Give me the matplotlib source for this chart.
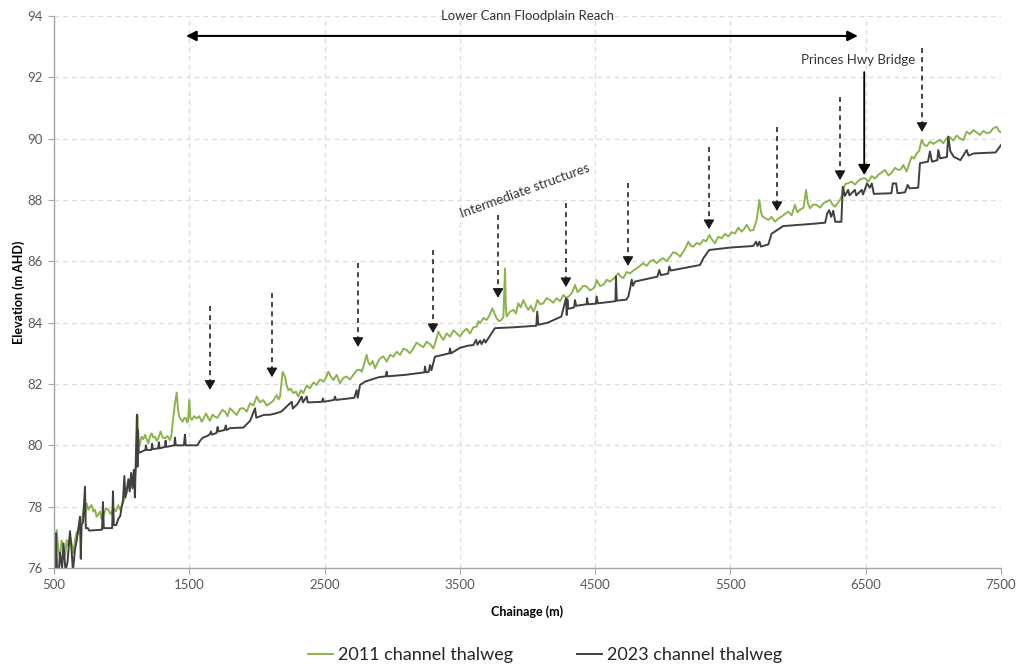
import matplotlib
matplotlib.use("Agg")
import matplotlib.pyplot as plt

plt.rcParams['font.family'] = ['Lato', 'DejaVu Sans']

# 2011 channel thalweg: (chainage m, elevation m AHD)
pts_2011 = [
    (500, 76.26), (510, 76.8), (520, 77.24), (532, 76.6), (544, 76.37), (556, 76.9), (569, 76.59),
    (582, 76.4), (594, 76.91), (606, 76.7), (618, 77.02), (630, 76.8), (643, 76.48), (655, 76.9),
    (668, 77.18), (680, 77.1), (692, 77.56), (705, 77.5), (717, 77.89), (729, 77.7), (741, 78.11),
    (754, 77.9), (766, 78.0), (778, 78.05), (791, 77.84), (803, 77.9), (815, 77.67), (828, 77.75),
    (840, 77.84), (852, 77.6), (865, 77.67), (884, 77.95), (902, 77.89), (920, 77.75), (939, 77.95),
    (957, 77.85), (975, 78.05), (988, 77.9), (1000, 78.0), (1012, 78.15), (1025, 78.33), (1038, 78.45),
    (1050, 78.65), (1062, 78.6), (1074, 78.87), (1087, 78.8), (1099, 79.03), (1108, 79.4), (1116, 80.99),
    (1124, 80.2), (1131, 79.96), (1140, 80.15), (1148, 80.28), (1160, 80.2), (1173, 80.34), (1185, 80.2),
    (1197, 80.06), (1210, 80.3), (1222, 80.39), (1235, 80.25), (1247, 80.28), (1259, 80.15), (1271, 80.23),
    (1280, 80.35), (1288, 80.45), (1304, 80.25), (1320, 80.23), (1338, 80.3), (1357, 80.17), (1367, 80.3),
    (1377, 80.72), (1394, 81.37), (1407, 81.72), (1416, 81.2), (1426, 80.93), (1438, 80.85), (1451, 80.77),
    (1463, 80.9), (1476, 80.88), (1483, 80.75), (1490, 80.77), (1500, 81.48), (1508, 80.9), (1518, 80.83),
    (1536, 80.95), (1555, 80.88), (1573, 80.95), (1592, 80.77), (1608, 80.9), (1624, 81.04), (1638, 80.9),
    (1653, 80.8), (1672, 81.0), (1690, 80.93), (1708, 80.9), (1727, 81.04), (1745, 81.15), (1764, 81.1),
    (1782, 80.95), (1801, 81.21), (1825, 81.1), (1850, 80.99), (1875, 81.2), (1900, 81.21), (1925, 81.1),
    (1949, 81.37), (1974, 81.3), (1998, 81.59), (2022, 81.4), (2047, 81.48), (2072, 81.3), (2097, 81.37),
    (2120, 81.45), (2146, 81.64), (2160, 81.5), (2171, 81.59), (2190, 82.4), (2207, 82.24), (2220, 81.95),
    (2232, 81.8), (2250, 81.85), (2269, 81.7), (2288, 81.75), (2306, 81.59), (2325, 81.8), (2343, 81.7),
    (2368, 81.95), (2392, 81.86), (2418, 82.05), (2442, 81.97), (2466, 82.15), (2491, 82.08), (2510, 82.2),
    (2528, 82.4), (2546, 82.25), (2565, 82.13), (2590, 82.3), (2614, 82.02), (2638, 82.2), (2663, 82.24),
    (2688, 82.15), (2713, 82.3), (2738, 82.45), (2762, 82.46), (2775, 82.4), (2787, 82.57), (2811, 82.95),
    (2824, 82.7), (2836, 82.62), (2855, 82.75), (2873, 82.51), (2892, 82.7), (2910, 82.84), (2935, 82.9),
    (2959, 82.73), (2984, 82.95), (3008, 82.89), (3033, 83.05), (3058, 82.95), (3082, 83.15), (3107, 83.11),
    (3131, 83.0), (3156, 83.16), (3180, 83.35), (3205, 83.27), (3230, 83.2), (3255, 83.38), (3280, 83.3),
    (3304, 83.16), (3322, 83.4), (3341, 83.71), (3360, 83.55), (3378, 83.44), (3402, 83.65), (3427, 83.54),
    (3452, 83.75), (3477, 83.65), (3500, 83.55), (3526, 83.71), (3550, 83.8), (3575, 83.65), (3600, 83.85),
    (3624, 83.87), (3637, 84.05), (3649, 83.98), (3674, 84.15), (3698, 84.09), (3720, 84.25), (3740, 84.47),
    (3756, 84.3), (3772, 84.14), (3790, 84.05), (3809, 84.09), (3822, 84.2), (3834, 85.77), (3840, 84.5),
    (3846, 84.2), (3870, 84.35), (3895, 84.42), (3914, 84.3), (3932, 84.63), (3950, 84.5), (3969, 84.74),
    (3988, 84.55), (4006, 84.42), (4025, 84.55), (4043, 84.36), (4058, 84.5), (4073, 84.74), (4095, 84.6),
    (4117, 84.63), (4140, 84.8), (4166, 84.74), (4190, 84.65), (4216, 84.8), (4240, 84.7), (4265, 84.9),
    (4290, 84.8), (4314, 84.9), (4332, 85.0), (4351, 85.23), (4370, 85.0), (4388, 85.07), (4412, 85.2),
    (4437, 85.18), (4462, 85.05), (4487, 85.12), (4500, 85.2), (4511, 85.39), (4535, 85.2), (4561, 85.23),
    (4585, 85.4), (4610, 85.34), (4640, 85.45), (4671, 85.61), (4690, 85.5), (4708, 85.45), (4733, 85.65),
    (4758, 85.61), (4782, 85.7), (4807, 85.77), (4830, 85.85), (4856, 85.94), (4880, 85.85), (4905, 85.99),
    (4930, 86.05), (4955, 85.94), (4980, 86.05), (5004, 86.1), (5028, 86.0), (5053, 86.15), (5078, 86.3),
    (5103, 86.26), (5128, 86.15), (5152, 86.32), (5170, 86.45), (5189, 86.64), (5208, 86.5), (5226, 86.48),
    (5250, 86.6), (5275, 86.55), (5300, 86.7), (5320, 86.65), (5344, 86.86), (5365, 86.7), (5386, 86.59),
    (5410, 86.8), (5435, 86.75), (5460, 86.9), (5484, 86.81), (5510, 86.95), (5534, 86.91), (5558, 87.1),
    (5583, 86.97), (5600, 87.05), (5620, 87.19), (5645, 87.0), (5669, 87.02), (5683, 87.2), (5694, 87.35),
    (5714, 88.0), (5726, 87.6), (5738, 87.46), (5760, 87.4), (5780, 87.35), (5805, 87.45), (5829, 87.29),
    (5855, 87.4), (5879, 87.46), (5904, 87.55), (5928, 87.62), (5952, 87.5), (5977, 87.84), (5995, 87.6),
    (6014, 87.68), (6040, 87.75), (6059, 88.33), (6072, 87.9), (6088, 87.73), (6112, 87.85), (6137, 87.84),
    (6162, 87.75), (6187, 87.89), (6212, 87.95), (6236, 88.0), (6255, 87.85), (6273, 87.78), (6292, 87.9),
    (6310, 88.0), (6328, 88.2), (6347, 88.52), (6372, 88.55), (6396, 88.6), (6420, 88.5), (6445, 88.63),
    (6470, 88.7), (6495, 88.71), (6520, 88.6), (6544, 88.78), (6568, 88.7), (6593, 88.82), (6618, 88.9),
    (6643, 88.98), (6668, 88.8), (6692, 88.89), (6716, 89.05), (6741, 88.98), (6760, 89.0), (6778, 89.14),
    (6803, 88.93), (6822, 89.2), (6840, 89.41), (6858, 89.35), (6877, 89.52), (6895, 89.6), (6914, 89.96),
    (6932, 89.8), (6951, 89.76), (6975, 89.9), (7000, 89.83), (7025, 89.9), (7049, 89.96), (7073, 89.85),
    (7098, 90.01), (7123, 90.05), (7148, 89.94), (7172, 90.1), (7197, 90.01), (7222, 89.95), (7246, 90.23),
    (7270, 90.15), (7295, 90.28), (7320, 90.2), (7345, 90.12), (7370, 90.25), (7394, 90.18), (7418, 90.2),
    (7443, 90.34), (7468, 90.39), (7485, 90.25), (7500, 90.2),
]

# 2023 channel thalweg
pts_2023 = [
    (500, 76.3), (508, 75.9), (515, 77.13), (522, 76.0), (535, 75.8), (544, 76.5), (560, 76.0), (570, 76.8),
    (585, 75.9), (600, 76.2), (618, 77.2), (628, 76.7), (640, 75.9), (655, 76.6), (668, 76.9), (680, 77.3),
    (692, 77.67), (698, 76.3), (704, 77.4), (715, 77.5), (729, 78.65), (735, 77.3), (750, 77.3), (760, 77.22),
    (855, 77.25), (862, 78.15), (868, 77.3), (930, 77.3), (936, 78.5), (942, 77.4), (960, 77.4), (975, 77.6),
    (990, 77.7), (1000, 78.0), (1010, 78.2), (1020, 79.0), (1028, 78.3), (1040, 78.6), (1050, 78.9),
    (1060, 78.5), (1070, 79.1), (1080, 78.6), (1090, 79.2), (1098, 78.3), (1105, 79.5), (1113, 81.0),
    (1117, 79.3), (1121, 80.5), (1126, 79.75), (1175, 79.85), (1180, 80.0), (1185, 79.85), (1220, 79.85),
    (1225, 80.05), (1230, 79.88), (1270, 79.9), (1275, 80.1), (1280, 79.9), (1320, 79.95), (1325, 80.15),
    (1330, 79.95), (1390, 80.0), (1394, 80.25), (1400, 80.0), (1460, 80.0), (1468, 80.35), (1474, 80.0),
    (1560, 80.0), (1580, 80.15), (1600, 80.25), (1630, 80.3), (1650, 80.35), (1660, 80.45), (1668, 80.35),
    (1700, 80.4), (1710, 80.6), (1715, 80.45), (1760, 80.5), (1770, 80.65), (1775, 80.5), (1801, 80.56),
    (1900, 80.58), (1950, 80.8), (1986, 81.21), (1995, 80.9), (2050, 80.99), (2100, 81.0), (2146, 81.05),
    (2180, 81.1), (2257, 81.42), (2265, 81.2), (2300, 81.35), (2331, 81.59), (2340, 81.4), (2368, 81.59),
    (2375, 81.4), (2480, 81.42), (2488, 81.53), (2495, 81.42), (2570, 81.48), (2577, 81.59), (2585, 81.48),
    (2720, 81.55), (2737, 81.8), (2745, 81.55), (2762, 81.97), (2800, 82.08), (2900, 82.22), (2952, 82.25),
    (2959, 82.4), (2965, 82.25), (3100, 82.3), (3200, 82.36), (3238, 82.38), (3242, 82.57), (3250, 82.38),
    (3270, 82.4), (3279, 82.62), (3290, 82.45), (3316, 82.89), (3400, 82.98), (3422, 83.0), (3427, 83.16),
    (3435, 83.0), (3501, 83.18), (3560, 83.25), (3600, 83.27), (3620, 83.44), (3630, 83.28), (3650, 83.42),
    (3660, 83.3), (3680, 83.45), (3690, 83.35), (3759, 83.82), (3900, 83.85), (4065, 83.9), (4072, 84.36),
    (4080, 83.93), (4150, 84.0), (4250, 84.2), (4285, 84.8), (4290, 84.25), (4295, 84.75), (4300, 84.45),
    (4345, 84.5), (4351, 84.74), (4360, 84.55), (4437, 84.6), (4440, 84.8), (4448, 84.6), (4505, 84.62),
    (4511, 84.85), (4520, 84.63), (4650, 84.7), (4654, 85.5), (4660, 84.72), (4730, 84.75), (4745, 84.85),
    (4760, 85.15), (4770, 85.4), (4780, 85.2), (4794, 85.34), (4960, 85.5), (4974, 85.72), (4985, 85.55),
    (5040, 85.6), (5048, 85.83), (5060, 85.7), (5275, 85.88), (5300, 86.1), (5343, 86.37), (5500, 86.45),
    (5668, 86.5), (5690, 86.64), (5700, 86.5), (5715, 86.64), (5725, 86.48), (5780, 86.55), (5804, 86.9),
    (5890, 87.15), (6100, 87.22), (6200, 87.26), (6215, 87.55), (6230, 87.67), (6245, 87.45), (6260, 87.65),
    (6275, 87.29), (6320, 87.29), (6330, 88.43), (6345, 88.13), (6370, 88.33), (6380, 88.15), (6420, 88.33),
    (6430, 88.15), (6470, 88.33), (6480, 88.18), (6510, 88.54), (6530, 88.4), (6545, 88.54), (6560, 88.2),
    (6690, 88.22), (6700, 88.54), (6725, 88.54), (6735, 88.22), (6790, 88.25), (6810, 88.49), (6825, 88.38),
    (6888, 88.4), (6901, 89.2), (6960, 89.25), (6975, 89.58), (6990, 89.25), (7030, 89.3), (7036, 89.63),
    (7050, 89.36), (7100, 89.4), (7110, 90.07), (7125, 89.6), (7150, 89.41), (7200, 89.3), (7246, 89.63),
    (7260, 89.45), (7300, 89.52), (7460, 89.55), (7500, 89.79),
]

# intermediate structures: chainage, dashed arrow top, arrow tip
struct_x = [1653, 2111, 2747, 3301, 3782, 4284, 4743, 5341, 5844, 6310, 6916]
struct_top = [84.54, 84.97, 85.95, 86.37, 87.51, 87.90, 88.55, 89.73, 90.38, 91.36, 92.96]
struct_tip = [81.81, 82.22, 83.21, 83.66, 84.81, 85.16, 85.85, 87.05, 87.64, 88.65, 90.22]

reach_start, reach_end, reach_y = 1476, 6442, 93.35
bridge_x, bridge_top, bridge_tip = 6489, 92.17, 88.82

x_2011, y_2011 = zip(*pts_2011)
x_2023, y_2023 = zip(*pts_2023)

fig = plt.figure(figsize=(10.17, 6.67), dpi=100)
ax = fig.add_axes([54/1017, 1 - 568/667, 947/1017, 552/667])

l1, = ax.plot(x_2011, y_2011, color='#8DB34C', lw=1.4, label='2011 channel thalweg')
l2, = ax.plot(x_2023, y_2023, color='#404040', lw=1.4, label='2023 channel thalweg')

ax.set_xlim(500, 7500)
ax.set_ylim(76, 94)
ax.set_xticks(range(500, 7501, 1000))
ax.set_yticks(range(76, 95, 2))
ax.grid(True, color='#DDDDDD', linestyle=(0, (4, 3)), lw=0.9)
ax.set_axisbelow(True)
for s in ['top', 'right']:
    ax.spines[s].set_visible(False)
for s in ['left', 'bottom']:
    ax.spines[s].set_color('#A6A6A6')
    ax.spines[s].set_linewidth(1.0)
ax.tick_params(direction='out', length=4, color='#A6A6A6', labelcolor='#595959', labelsize=9.5, pad=4)
ax.set_xlabel('Chainage (m)', fontsize=9, fontweight='bold', labelpad=10)
ax.set_ylabel('Elevation (m AHD)', fontsize=9, fontweight='bold', labelpad=2)

# reach arrow and labels
ax.annotate('', xy=(reach_start, reach_y), xytext=(reach_end, reach_y),
            arrowprops=dict(arrowstyle='<|-|>,head_length=0.5,head_width=0.25', color='black', lw=1.5,
                            shrinkA=0, shrinkB=0, mutation_scale=12), annotation_clip=False)
ax.text(4000, 94.0, 'Lower Cann Floodplain Reach', ha='center', va='center', fontsize=9.5,
        color='#333333', clip_on=False)

ax.text(6443, 92.57, 'Princes Hwy Bridge', ha='center', va='center', fontsize=9.5, color='#333333')
ax.annotate('', xy=(bridge_x, bridge_tip), xytext=(bridge_x, bridge_top),
            arrowprops=dict(arrowstyle='-|>,head_length=0.5,head_width=0.3', color='black', lw=1.3,
                            shrinkA=0, shrinkB=0, mutation_scale=12))

ax.text(3981, 88.29, 'Intermediate structures', ha='center', va='center', fontsize=9.5,
        color='#333333', rotation=20, rotation_mode='anchor')

# dashed shafts with solid heads
for sx, st, sb in zip(struct_x, struct_top, struct_tip):
    ax.plot([sx, sx], [st, sb + 0.2], color='#262626', lw=1.2, dashes=(3, 2.5))
    ax.annotate('', xy=(sx, sb), xytext=(sx, sb + 0.3),
                arrowprops=dict(arrowstyle='-|>,head_length=0.55,head_width=0.32', color='#1a1a1a', lw=1.0,
                                shrinkA=0, shrinkB=0, mutation_scale=10))

fig.legend(handles=[l1, l2], loc='center', bbox_to_anchor=(545/1017, 1 - 655/667), ncol=2,
           frameon=False, fontsize=13, handlelength=1.4, handletextpad=0.28, columnspacing=3.5,
           labelcolor='#262626')

fig.savefig('out.png', dpi=100)
